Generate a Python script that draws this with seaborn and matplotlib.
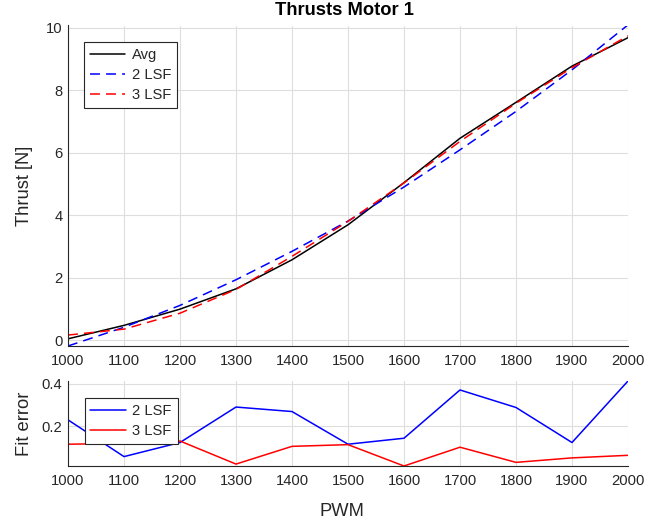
import numpy as np
import pandas as pd
import matplotlib
matplotlib.use("Agg")
import matplotlib.pyplot as plt
import seaborn as sns

# ---- data ----
pwm = [1000, 1100, 1200, 1300, 1400, 1500, 1600, 1700, 1800, 1900, 2000]
thrust_avg = [0.05, 0.48, 1.00, 1.65, 2.58, 3.70, 5.05, 6.47, 7.62, 8.78, 9.69]
fit_2lsf = [-0.18, 0.42, 1.12, 1.94, 2.85, 3.82, 4.91, 6.10, 7.33, 8.66, 10.10]
fit_3lsf = [0.17, 0.36, 0.87, 1.63, 2.69, 3.81, 5.04, 6.37, 7.59, 8.73, 9.75]
err_2lsf = [0.230, 0.058, 0.124, 0.290, 0.269, 0.116, 0.144, 0.370, 0.288, 0.124, 0.412]
err_3lsf = [0.116, 0.120, 0.131, 0.023, 0.106, 0.114, 0.014, 0.102, 0.031, 0.052, 0.064]
xticks = [1000, 1100, 1200, 1300, 1400, 1500, 1600, 1700, 1800, 1900, 2000]
yticks_top = [0, 2, 4, 6, 8, 10]
yticks_bot = [0.2, 0.4]

sns.set_theme(style="white")
plt.rcParams["font.family"] = ["Liberation Sans", "DejaVu Sans"]

W, H = 646, 526
fig = plt.figure(figsize=(W / 100, H / 100), dpi=100)

def fx(px):
    return px / W

def fy(py):
    return 1 - py / H

left, right = 68, 628
ax1 = fig.add_axes([fx(left), fy(346), fx(right - left), (346 - 25.5) / H])
ax2 = fig.add_axes([fx(left), fy(466), fx(right - left), (466 - 381) / H])

TXT = "#262626"
GRID = "#dedede"
tick_fs = 10.6
lab_fs = 13.2
lw = 1.1
dash = (0, (6.5, 4))

df = pd.DataFrame({"PWM": pwm, "avg": thrust_avg, "f2": fit_2lsf, "f3": fit_3lsf,
                   "e2": err_2lsf, "e3": err_3lsf})

sns.lineplot(data=df, x="PWM", y="avg", ax=ax1, color="black", lw=lw, label="Avg")
sns.lineplot(data=df, x="PWM", y="f2", ax=ax1, color="#0000ff", lw=lw,
             linestyle=dash, label="2 LSF")
sns.lineplot(data=df, x="PWM", y="f3", ax=ax1, color="#ff0000", lw=lw,
             linestyle=dash, label="3 LSF")

sns.lineplot(data=df, x="PWM", y="e2", ax=ax2, color="#0000ff", lw=lw, label="2 LSF")
sns.lineplot(data=df, x="PWM", y="e3", ax=ax2, color="#ff0000", lw=lw, label="3 LSF")

for ax in (ax1, ax2):
    ax.set_xlim(1000, 2000)
    ax.set_xticks(xticks)
    ax.set_xticklabels([str(t) for t in xticks])
    ax.grid(True, color=GRID, lw=0.8)
    ax.set_axisbelow(True)
    for s in ("top", "right"):
        ax.spines[s].set_visible(False)
    for s in ("left", "bottom"):
        ax.spines[s].set_visible(True)
        ax.spines[s].set_color(TXT)
        ax.spines[s].set_linewidth(0.8)
    ax.tick_params(axis="both", direction="in", length=4, width=0.8, color=TXT,
                   labelcolor=TXT, labelsize=tick_fs)
    ax.tick_params(axis="x", pad=6)
    ax.tick_params(axis="y", pad=4)
    ax.set_facecolor("white")

ax1.set_ylim(-0.18, 10.08)
ax1.set_yticks(yticks_top)
ax1.set_yticklabels([str(t) for t in yticks_top])
ax2.set_ylim(0.014, 0.412)
ax2.set_yticks(yticks_bot)
ax2.set_yticklabels(["0.2", "0.4"])

ax1.set_xlabel("")
ax1.set_ylabel("Thrust [N]", fontsize=lab_fs, color=TXT)
ax2.set_ylabel("Fit error", fontsize=lab_fs, color=TXT)
ax2.set_xlabel("PWM", fontsize=lab_fs, color=TXT)
ax1.yaxis.set_label_coords((33 - left) / (right - left), 0.5)
ax2.yaxis.set_label_coords((33 - left) / (right - left), 0.5)
ax2.xaxis.set_label_coords(0.49, (466 - 503) / 85)

fig.text(fx(344), fy(10.5), "Thrusts Motor 1", ha="center", va="center",
         fontsize=lab_fs, fontweight="bold", color="black")

leg_kw = dict(loc="upper left", frameon=True, fancybox=False, framealpha=1,
              edgecolor=TXT, fontsize=tick_fs, borderaxespad=0,
              handlelength=2.4, handletextpad=0.45, borderpad=0.4,
              labelspacing=0.42)
l1 = ax1.legend(bbox_to_anchor=((84 - left) / (right - left), 1 - (42 - 25.5) / 320.5),
                **leg_kw)
l2 = ax2.legend(bbox_to_anchor=((84.5 - left) / (right - left), 1 - (398 - 381) / 85),
                **leg_kw)
for lg in (l1, l2):
    lg.get_frame().set_linewidth(0.8)
    for t in lg.get_texts():
        t.set_color(TXT)

fig.savefig("out.png", dpi=100, facecolor="white")
